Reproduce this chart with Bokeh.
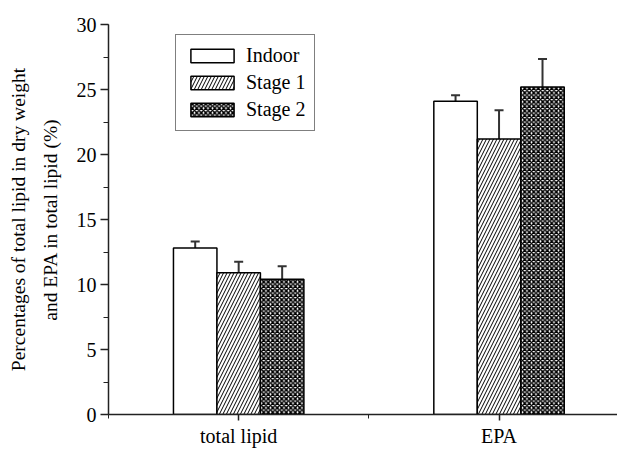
from bokeh.plotting import figure
from bokeh.models import Range1d, FixedTicker, SingleIntervalTicker, Whisker, ColumnDataSource, TeeHead, Title
from bokeh.embed import file_html
from bokeh.resources import INLINE

categories = ["total lipid", "EPA"]
series = ["Indoor", "Stage 1", "Stage 2"]
indoor = [12.8, 24.1]
stage1 = [10.9, 21.2]
stage2 = [10.4, 25.2]
indoor_err = [0.5, 0.45]
stage1_err = [0.85, 2.2]
stage2_err = [1.0, 2.15]
ylabel_lines = ["Percentages of total lipid in dry weight", "and EPA in total lipid (%)"]

FONT = "Liberation Serif"
FS = "20px"

p = figure(width=617, height=449, output_backend="svg", toolbar_location=None,
           x_range=Range1d(-0.5, 1.455), y_range=Range1d(0, 30),
           min_border_left=108, min_border_right=0, min_border_top=24, min_border_bottom=34)
p.outline_line_color = None
p.grid.visible = False
p.background_fill_color = "white"

bw = 0.167
offsets = [-bw, 0.0, bw]
values = [indoor, stage1, stage2]
errs = [indoor_err, stage1_err, stage2_err]
styles = [dict(fill_color="white"),
          dict(fill_color="white", hatch_pattern="/", hatch_color="black", hatch_scale=7, hatch_weight=1),
          dict(fill_color="white", hatch_pattern="x", hatch_color="black", hatch_scale=4.5, hatch_weight=1.5)]

for s, vals, er, off, st in zip(series, values, errs, offsets, styles):
    xs = [i + off for i in range(len(categories))]
    src = ColumnDataSource(dict(x=xs, top=vals,
                                upper=[v + e for v, e in zip(vals, er)],
                                lower=[v - e for v, e in zip(vals, er)]))
    p.vbar(x="x", top="top", width=bw, source=src, line_color="black", line_width=1.5,
           legend_label=s, **st)
    w = Whisker(base="x", upper="upper", lower="lower", source=src,
                line_color="#333333", line_width=2,
                upper_head=TeeHead(size=9, line_color="#333333", line_width=2),
                lower_head=TeeHead(size=9, line_color="#333333", line_width=2))
    p.add_layout(w)

# x axis
p.xaxis.ticker = FixedTicker(ticks=[0, 1], minor_ticks=[-0.5, 0.5])
p.xaxis.major_label_overrides = {0: categories[0], 1: categories[1]}
p.xaxis.major_tick_out = 6
p.xaxis.major_tick_in = 0
p.xaxis.minor_tick_out = 4
p.xaxis.minor_tick_in = 0
p.xaxis.major_label_standoff = 4

# y axis
p.yaxis.ticker = SingleIntervalTicker(interval=5, num_minor_ticks=2)
p.yaxis.major_tick_out = 8
p.yaxis.major_tick_in = 0
p.yaxis.minor_tick_out = 5
p.yaxis.minor_tick_in = 0
p.yaxis.major_label_standoff = 4

for ax in (p.xaxis, p.yaxis):
    ax.major_label_text_font = FONT
    ax.major_label_text_font_size = FS
    ax.major_label_text_color = "black"
    ax.axis_line_color = "#222222"
    ax.axis_line_width = 1.5
    ax.major_tick_line_color = "#222222"
    ax.minor_tick_line_color = "#222222"
    ax.major_tick_line_width = 1.5

# two-line y-axis title, each line centred (inner line first)
for txt, so in zip(reversed(ylabel_lines), [25, -7]):
    p.add_layout(Title(text=txt, align="center", text_font=FONT, text_font_size="19.5px",
                       text_font_style="normal", text_color="black", standoff=so), "left")

leg = p.legend[0]
leg.location = (67, 283)
leg.label_text_font = FONT
leg.label_text_font_size = FS
leg.label_text_color = "black"
leg.glyph_width = 54
leg.glyph_height = 17
leg.label_height = 17
leg.label_standoff = 7
leg.spacing = 4
leg.padding = 9
leg.margin = 0
leg.border_line_color = "black"
leg.border_line_width = 1
leg.background_fill_alpha = 1

open("out.html", "w").write(file_html(p, INLINE))
